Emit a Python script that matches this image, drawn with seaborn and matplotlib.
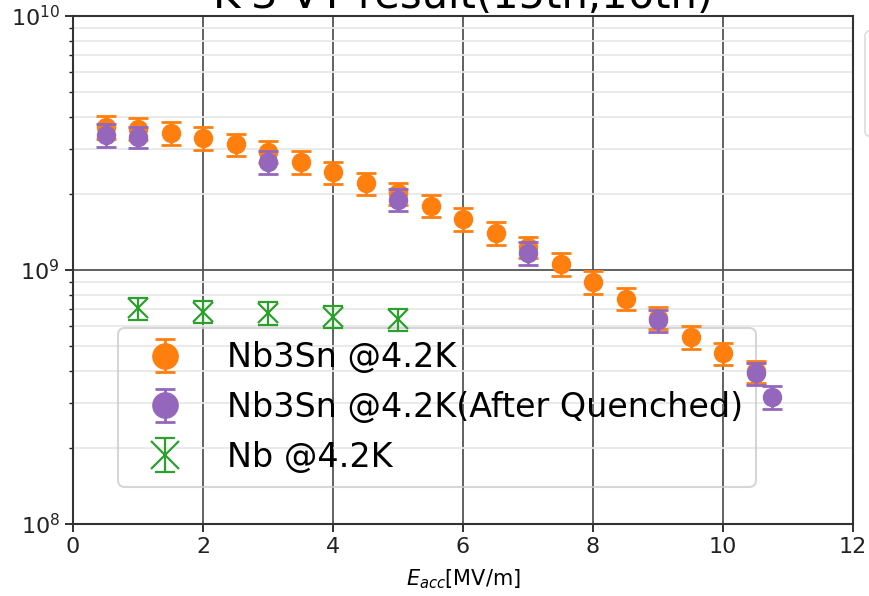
import numpy as np
import seaborn as sns
import matplotlib.pyplot as plt
from matplotlib.patches import FancyBboxPatch

# Nb3Sn @4.2K
x_sn = [0.5, 1.0, 1.5, 2.0, 2.5, 3.0, 3.5, 4.0, 4.5, 5.0, 5.5,
        6.0, 6.5, 7.0, 7.5, 8.0, 8.5, 9.0, 9.5, 10.0, 10.5]
q_sn = [3.66e9, 3.60e9, 3.46e9, 3.31e9, 3.13e9, 2.92e9, 2.66e9, 2.43e9, 2.20e9, 2.01e9, 1.79e9,
        1.59e9, 1.40e9, 1.23e9, 1.06e9, 8.98e8, 7.70e8, 6.50e8, 5.45e8, 4.71e8, 4.00e8]
err_sn = [3.7e8, 3.6e8, 3.5e8, 3.3e8, 3.1e8, 2.9e8, 2.7e8, 2.4e8, 2.2e8, 2.0e8, 1.8e8,
          1.6e8, 1.4e8, 1.2e8, 1.1e8, 9.0e7, 7.7e7, 6.5e7, 5.5e7, 4.7e7, 4.0e7]

# Nb3Sn @4.2K after quench
x_q = [0.5, 1.0, 3.0, 5.0, 7.0, 9.0, 10.5, 10.75]
q_q = [3.40e9, 3.34e9, 2.66e9, 1.89e9, 1.17e9, 6.35e8, 3.93e8, 3.16e8]
err_q = [3.4e8, 3.3e8, 2.7e8, 1.9e8, 1.2e8, 6.4e7, 3.9e7, 3.2e7]

# Nb @4.2K
x_nb = [1.0, 2.0, 3.0, 4.0, 5.0]
q_nb = [7.08e8, 6.84e8, 6.78e8, 6.54e8, 6.40e8]
err_nb = [7.0e7, 6.8e7, 6.8e7, 6.5e7, 6.4e7]

labels = ["Nb3Sn @4.2K", "Nb3Sn @4.2K(After Quenched)", "Nb @4.2K"]

sns.set_style("white", {"text.color": "black", "axes.labelcolor": "black",
                        "xtick.color": "#222222", "ytick.color": "#222222"})
pal = sns.color_palette("tab10")
plt.rcParams['font.family'] = ['DejaVu Sans']

fig = plt.figure(figsize=(8.69, 5.96), dpi=100)
ax = fig.add_axes([73 / 869, 1 - 524 / 596, 780 / 869, 508 / 596])

ax.errorbar(x_sn, q_sn, yerr=err_sn, fmt='o', color=pal[1], markersize=13,
            capsize=7, capthick=2, elinewidth=2, label=labels[0], zorder=3)
ax.errorbar(x_q, q_q, yerr=err_q, fmt='o', color=pal[4], markersize=13,
            capsize=7, capthick=2, elinewidth=2, label=labels[1], zorder=4)
ax.errorbar(x_nb, q_nb, yerr=err_nb, fmt='x', color=pal[2], markersize=14,
            markeredgewidth=1.6, capsize=7, capthick=2, elinewidth=1.6, label=labels[2], zorder=3)

ax.set_yscale('log')
ax.set_xlim(0, 12)
ax.set_ylim(1e8, 1e10)
ax.set_xticks(range(0, 13, 2))
ax.grid(which='major', color='#555555', linewidth=1.3)
ax.grid(which='minor', axis='y', color='#e8e8e8', linewidth=1.3)
ax.set_axisbelow(True)
for s in ax.spines.values():
    s.set_color('#333333')
    s.set_linewidth(1.5)
ax.tick_params(axis='both', which='major', labelsize=16, length=6, width=1.3, left=True, bottom=True)
ax.tick_params(axis='y', which='minor', length=3, width=1, left=True)

ax.set_xlabel(r'$E_{acc}$[MV/m]', fontsize=15, labelpad=7)
ax.set_title("K-3 VT result(15th,16th)", fontsize=30, pad=6)

leg = ax.legend(loc='lower left', bbox_to_anchor=(0.058, 0.073), borderaxespad=0,
                fontsize=24, markerscale=1.4, frameon=True,
                handlelength=2.0, handletextpad=0.85)
leg.get_frame().set_facecolor('none')
leg.get_frame().set_edgecolor('#cccccc')
leg.get_frame().set_linewidth(1.5)
leg.set_zorder(2)

# edge of a second box cut off at the right
fig.patches.append(FancyBboxPatch((865 / 869, 1 - 137 / 596), 0.1, 107 / 596,
                                  boxstyle='round,pad=0,rounding_size=0.01',
                                  transform=fig.transFigure, facecolor='white',
                                  edgecolor='#dddddd', linewidth=1.2))

fig.savefig('out.png', dpi=100)
